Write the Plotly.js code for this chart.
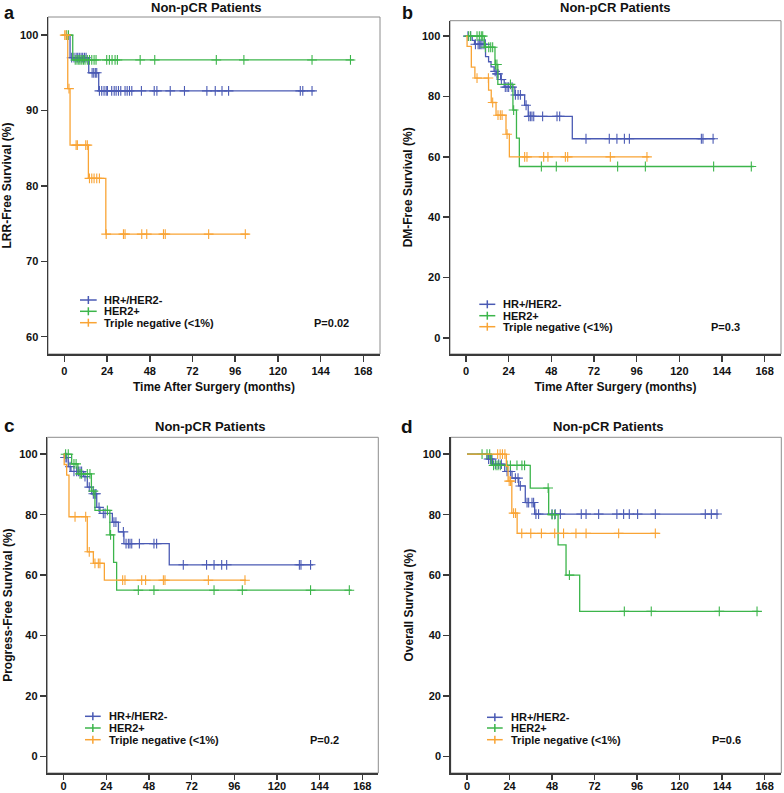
<!DOCTYPE html>
<html>
<head>
<meta charset="utf-8">
<script src="https://cdn.plot.ly/plotly-3.0.1.min.js"></script>
<style>html,body{margin:0;padding:0;background:#fff}#chart{width:784px;height:793px}</style>
</head>
<body>
<div id="chart"></div>
<script>
// ---------------- DATA ----------------
const groups = ["HR+/HER2-", "HER2+", "Triple negative (<1%)"];
const panelTitles = ["Non-pCR Patients", "Non-pCR Patients", "Non-pCR Patients", "Non-pCR Patients"];
const panelLetters = ["a", "b", "c", "d"];
const yTitles = ["LRR-Free Survival (%)", "DM-Free Survival (%)", "Progress-Free Survival (%)", "Overall Survival (%)"];
const xTitle = "Time After Surgery (months)";
const pValues = ["P=0.02", "P=0.3", "P=0.2", "P=0.6"];
const xTickVals = [0, 24, 48, 72, 96, 120, 144, 168];
const yTickValsA = [60, 70, 80, 90, 100];
const yTickValsOther = [0, 20, 40, 60, 80, 100];

// Panel a: LRR-free survival
const a_hr_t = [0, 3.2, 13.7, 19.3];
const a_hr_s = [100, 97.0, 95.0, 92.6];
const a_hr_end = 140.7;
const a_hr_c = [4.1, 5.4, 6.6, 7.5, 8.4, 9.4, 10.3, 11.3, 12.2, 15.6, 16.5, 17.4, 18.2, 19.7, 21.0, 22.3, 23.5, 24.2, 26.6, 28.0, 29.1, 30.4, 31.7, 34.1, 35.3, 36.6, 37.9, 43.3, 50.5, 52.0, 59.5, 67.5, 80.1, 84.8, 88.6, 92.3, 132.6, 134.0, 139.2];
const a_her2_t = [0, 4.7];
const a_her2_s = [100, 96.7];
const a_her2_end = 162.7;
const a_her2_c = [1.3, 2.3, 6.1, 7.1, 8.1, 8.8, 9.8, 10.7, 11.6, 12.9, 14.1, 15.4, 16.7, 17.8, 23.8, 25.3, 26.8, 28.5, 29.8, 42.6, 50.8, 85.4, 100.9, 139.2, 160.8];
const a_tn_t = [0, 1.9, 3.2, 13.5, 23.3];
const a_tn_s = [100, 92.9, 85.4, 81.0, 73.6];
const a_tn_end = 103.6;
const a_tn_c = [0.2, 0.9, 2.6, 6.6, 7.3, 12.0, 12.9, 14.1, 15.4, 16.7, 18.2, 19.7, 23.5, 33.2, 34.1, 43.5, 46.3, 55.7, 56.7, 81.1, 101.7];

// Panel b: DM-free survival
const b_hr_t = [0, 3.5, 4.8, 11.0, 12.7, 14.1, 15.8, 17.1, 19.5, 21.5, 27.5, 33.0, 35.0, 59.8];
const b_hr_s = [100, 98.6, 97.3, 93.2, 91.5, 89.8, 88.3, 87.5, 85.6, 83.1, 80.5, 77.1, 73.4, 66.0];
const b_hr_end = 139.9;
const b_hr_c = [1.1, 2.6, 5.3, 6.8, 7.5, 8.3, 9.0, 10.1, 10.9, 16.4, 17.4, 18.0, 19.9, 22.1, 23.1, 24.0, 25.9, 27.8, 29.3, 30.6, 33.8, 35.3, 36.2, 37.1, 38.1, 43.1, 51.2, 52.7, 67.5, 80.6, 84.9, 89.1, 91.9, 132.4, 133.3, 139.0];
const b_her2_t = [0, 10.3, 16.3, 17.9, 26.4, 28.4, 30.0];
const b_her2_s = [100, 96.3, 90.6, 84.0, 75.5, 66.2, 56.8];
const b_her2_end = 161.8;
const b_her2_c = [1.5, 2.6, 6.2, 7.5, 8.6, 9.4, 10.9, 12.8, 13.9, 15.0, 16.6, 17.4, 25.0, 26.8, 42.4, 50.8, 85.3, 100.9, 139.3, 160.5];
const b_tn_t = [0, 0.6, 3.0, 5.0, 12.7, 14.2, 16.9, 22.5, 24.4];
const b_tn_s = [100, 96.6, 89.7, 86.1, 82.1, 78.0, 73.8, 67.5, 60.0];
const b_tn_end = 103.1;
const b_tn_c = [6.2, 12.6, 15.0, 18.0, 19.3, 20.3, 23.1, 33.0, 34.3, 43.7, 46.1, 55.9, 57.2, 81.2, 101.8];

// Panel c: progress-free survival
const c_hr_t = [0, 0.3, 2.6, 4.1, 11.1, 13.3, 15.8, 18.6, 20.4, 27.4, 30.8, 33.9, 59.4];
const c_hr_s = [100, 98.9, 95.9, 94.3, 92.6, 89.1, 86.9, 82.4, 80.4, 77.5, 74.3, 70.4, 63.4];
const c_hr_end = 140.4;
const c_hr_c = [0.8, 1.7, 3.6, 5.8, 7.3, 8.3, 9.2, 10.1, 12.0, 14.4, 16.7, 17.6, 18.2, 19.9, 22.3, 23.3, 28.3, 29.4, 33.6, 35.1, 36.4, 37.3, 38.3, 42.6, 50.8, 52.3, 67.3, 80.4, 84.6, 88.9, 91.7, 132.6, 133.5, 138.9];
const c_her2_t = [0, 4.5, 8.0, 15.6, 17.6, 26.0, 28.1, 29.8];
const c_her2_s = [100, 96.8, 93.5, 87.8, 81.4, 73.3, 64.2, 55.0];
const c_her2_end = 162.0;
const c_her2_c = [1.1, 2.6, 5.8, 7.0, 9.2, 10.1, 13.3, 14.8, 16.7, 24.6, 26.4, 42.0, 50.8, 84.6, 100.5, 138.9, 160.7];
const c_tn_t = [0, 0.3, 1.7, 3.0, 13.3, 16.7, 22.9];
const c_tn_s = [100, 96.6, 93.1, 79.3, 67.7, 63.9, 58.3];
const c_tn_end = 102.6;
const c_tn_c = [6.4, 12.4, 14.4, 17.6, 19.5, 20.4, 33.2, 34.5, 43.9, 46.1, 56.1, 57.0, 81.4, 102.0];

// Panel d: overall survival
const d_hr_t = [0, 11.3, 14.5, 21.3, 25.4, 29.2, 32.9, 38.2];
const d_hr_s = [100, 98.4, 96.7, 94.3, 92.1, 89.5, 84.0, 80.2];
const d_hr_end = 142.0;
const d_hr_c = [12.2, 13.2, 14.1, 16.0, 17.9, 19.4, 22.6, 24.5, 27.3, 28.8, 30.1, 33.9, 34.8, 36.7, 37.6, 38.9, 40.4, 48.0, 49.8, 52.7, 64.5, 67.2, 74.3, 84.6, 88.4, 91.6, 96.3, 106.3, 134.5, 137.9, 141.1];
const d_her2_t = [0, 13.7, 35.7, 46.1, 51.4, 55.9, 63.6];
const d_her2_s = [100, 96.3, 88.8, 80.0, 70.0, 60.0, 48.0];
const d_her2_end = 164.6;
const d_her2_c = [8.5, 11.3, 12.8, 15.0, 16.4, 17.5, 18.8, 22.6, 24.5, 28.2, 31.0, 32.5, 45.8, 48.0, 49.5, 57.8, 88.8, 104.0, 142.4, 163.7];
const d_tn_t = [0, 22.2, 23.2, 25.3, 28.3];
const d_tn_s = [100, 96.0, 91.1, 80.5, 73.8];
const d_tn_end = 108.2;
const d_tn_c = [17.3, 18.7, 20.0, 21.4, 23.8, 24.6, 26.3, 27.4, 30.9, 36.0, 42.0, 49.5, 54.5, 61.5, 67.2, 85.6, 106.3];

// ---------------- BUILD ----------------
const panels = [
  [[a_hr_t, a_hr_s, a_hr_end, a_hr_c], [a_her2_t, a_her2_s, a_her2_end, a_her2_c], [a_tn_t, a_tn_s, a_tn_end, a_tn_c]],
  [[b_hr_t, b_hr_s, b_hr_end, b_hr_c], [b_her2_t, b_her2_s, b_her2_end, b_her2_c], [b_tn_t, b_tn_s, b_tn_end, b_tn_c]],
  [[c_hr_t, c_hr_s, c_hr_end, c_hr_c], [c_her2_t, c_her2_s, c_her2_end, c_her2_c], [c_tn_t, c_tn_s, c_tn_end, c_tn_c]],
  [[d_hr_t, d_hr_s, d_hr_end, d_hr_c], [d_her2_t, d_her2_s, d_her2_end, d_her2_c], [d_tn_t, d_tn_s, d_tn_end, d_tn_c]]
];
const colors = ["#4a5ab4", "#3cb54b", "#f9a435"];
const FONT = "'Liberation Sans', Arial, Helvetica, sans-serif";
const W = 784, H = 793;
const fx = p => p / W;
const fy = p => 1 - p / H;

function survAt(ts, ss, t) {
  let s = ss[0];
  for (let i = 0; i < ts.length; i++) if (ts[i] <= t) s = ss[i];
  return s;
}

const traces = [];
panels.forEach((pan, pi) => {
  const xa = pi === 0 ? "x" : "x" + (pi + 1);
  const ya = pi === 0 ? "y" : "y" + (pi + 1);
  pan.forEach((g, gi) => {
    const [ts, ss, end, cs] = g;
    traces.push({
      type: "scatter", mode: "lines", xaxis: xa, yaxis: ya,
      x: ts.concat([end]), y: ss.concat([ss[ss.length - 1]]),
      line: {shape: "hv", color: colors[gi], width: 1.3},
      hoverinfo: "skip", showlegend: false, name: groups[gi]
    });
    traces.push({
      type: "scatter", mode: "markers", xaxis: xa, yaxis: ya,
      x: cs, y: cs.map(t => survAt(ts, ss, t)),
      marker: {symbol: "cross-thin", size: 7, color: colors[gi], line: {width: 1.1, color: colors[gi]}},
      hoverinfo: "skip", showlegend: false, name: groups[gi] + " censored"
    });
  });
});

// layout geometry (pixels)
const boxes = [
  {l: 48, r: 380, t: 17, b: 354, xr: [-9.2, 177.4], yr: [57.7, 102.4], yt: yTickValsA},
  {l: 450, r: 781, t: 20.7, b: 354, xr: [-9.0, 177.2], yr: [-5.3, 105.1], yt: yTickValsOther},
  {l: 47.3, r: 378.3, t: 437.3, b: 773, xr: [-9.2, 177.0], yr: [-5.5, 105.6], yt: yTickValsOther},
  {l: 450.7, r: 781.3, t: 437.3, b: 773, xr: [-9.2, 177.4], yr: [-5.5, 105.6], yt: yTickValsOther}
];
const titlePos = [[206.7, 7.5], [615.3, 7.5], [210, 426.7], [608.7, 426.7]];
const letterPos = [[9, 12.5], [407.3, 12.5], [9, 425], [407.3, 426.3]];
const letterSize = [18, 18, 19, 19];
const legendPos = [
  {lx0: 80, lx1: 96.7, tx: 101.7, rows: [300, 311.3, 322.7], px: 311.7},
  {lx0: 479.3, lx1: 495.3, tx: 501.3, rows: [304.3, 315.7, 326.7], px: 708.7},
  {lx0: 85, lx1: 100.7, tx: 106.7, rows: [716.3, 728, 739.7], px: 308.3},
  {lx0: 487, lx1: 502.7, tx: 508.7, rows: [717.3, 728, 739.7], px: 710.3}
];
const yStandoff = [6, 6, 4, 6];

const axisCommon = {
  showgrid: false, zeroline: false, showline: true, linecolor: "#3a3a3a", linewidth: 1.5,
  ticks: "outside", ticklen: 6, tickwidth: 1.5, tickcolor: "#3a3a3a",
  tickfont: {family: FONT, size: 11, color: "#111", weight: "bold"}, fixedrange: true
};

const layout = {
  width: W, height: H, margin: {l: 0, r: 0, t: 0, b: 0},
  paper_bgcolor: "#fff", plot_bgcolor: "#fff", showlegend: false,
  font: {family: FONT, color: "#111"},
  annotations: [], shapes: []
};

boxes.forEach((bx, i) => {
  const sfx = i === 0 ? "" : String(i + 1);
  const xax = Object.assign({}, axisCommon, {
    domain: [fx(bx.l), fx(bx.r)], range: bx.xr, anchor: "y" + sfx,
    tickmode: "array", tickvals: xTickVals, ticktext: xTickVals.map(String),
    title: i < 2 ? {text: xTitle, font: {family: FONT, size: 12, color: "#111", weight: "bold"}, standoff: 7} : {text: ""}
  });
  if (i >= 2) { xax.ticklen = 5; xax.ticklabelstandoff = -3; }
  layout["xaxis" + sfx] = xax;
  layout["yaxis" + sfx] = Object.assign({}, axisCommon, {
    domain: [fy(bx.b), fy(bx.t)], range: bx.yr, anchor: "x" + sfx,
    tickmode: "array", tickvals: bx.yt, ticktext: bx.yt.map(String),
    title: {text: yTitles[i], font: {family: FONT, size: 12, color: "#111", weight: "bold"}, standoff: yStandoff[i]}
  });
  // light frame
  layout.shapes.push({type: "rect", xref: "x" + sfx + " domain", yref: "y" + sfx + " domain",
    x0: 0, x1: 1, y0: 0, y1: 1, line: {color: "#8c8c8c", width: 1}, layer: "below"});
  // panel title & letter
  layout.annotations.push({xref: "paper", yref: "paper", x: fx(titlePos[i][0]), y: fy(titlePos[i][1]),
    xanchor: "center", yanchor: "middle", showarrow: false, text: panelTitles[i],
    font: {family: FONT, size: 13, color: "#111", weight: "bold"}});
  layout.annotations.push({xref: "paper", yref: "paper", x: fx(letterPos[i][0]), y: fy(letterPos[i][1]),
    xanchor: "center", yanchor: "middle", showarrow: false, text: panelLetters[i],
    font: {family: FONT, size: letterSize[i], color: "#111", weight: "bold"}});
  // legend
  const lg = legendPos[i];
  groups.forEach((g, gi) => {
    const yy = lg.rows[gi];
    const cx = (lg.lx0 + lg.lx1) / 2;
    layout.shapes.push({type: "line", xref: "paper", yref: "paper", x0: fx(lg.lx0), x1: fx(lg.lx1), y0: fy(yy), y1: fy(yy),
      line: {color: colors[gi], width: 1.5}});
    layout.shapes.push({type: "line", xref: "paper", yref: "paper", x0: fx(cx), x1: fx(cx), y0: fy(yy - 4), y1: fy(yy + 4),
      line: {color: colors[gi], width: 1.5}});
    layout.annotations.push({xref: "paper", yref: "paper", x: fx(lg.tx), y: fy(yy), xanchor: "left", yanchor: "middle",
      showarrow: false, text: g, font: {family: FONT, size: 11, color: "#111", weight: "bold"}});
  });
  layout.annotations.push({xref: "paper", yref: "paper", x: fx(lg.px), y: fy(lg.rows[2]), xanchor: "left", yanchor: "middle",
    showarrow: false, text: pValues[i], font: {family: FONT, size: 11, color: "#111", weight: "bold"}});
});

Plotly.newPlot("chart", traces, layout, {staticPlot: true, displayModeBar: false});
</script>
</body>
</html>
